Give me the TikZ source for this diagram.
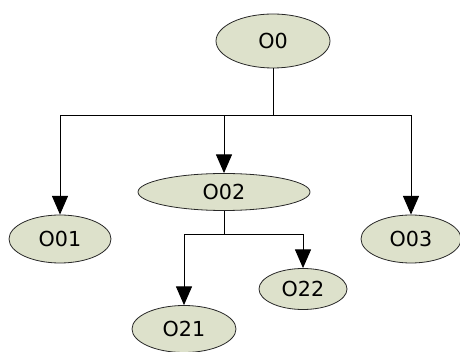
\documentclass[tikz,border=0pt]{standalone}
\usepackage{fontspec}
\setmainfont{DejaVu Sans}
\usetikzlibrary{arrows.meta,shapes.geometric}
\definecolor{nodefill}{RGB}{221,225,203}
\definecolor{nodeline}{RGB}{40,40,40}
\begin{document}
\begin{tikzpicture}[x=0.75pt,y=-0.75pt,
  obj/.style={ellipse,draw=nodeline,fill=nodefill,line width=0.6pt,inner sep=0pt,
    font=\fontsize{15.5}{17}\selectfont},
  link/.style={line width=0.75pt,black},
  arr/.style={link,-{Triangle[length=14pt,width=12pt]}}]
\useasboundingbox (0,0) rectangle (460,352);
\node[obj,minimum width=114*0.75pt,minimum height=54*0.75pt] (o0) at (273,41) {O0};
\node[obj,minimum width=172*0.75pt,minimum height=37*0.75pt] (o02) at (224,192) {O02};
\node[obj,minimum width=102*0.75pt,minimum height=48*0.75pt] (o01) at (60,239) {O01};
\node[obj,minimum width=100*0.75pt,minimum height=48*0.75pt] (o03) at (411,239) {O03};
\node[obj,minimum width=88*0.75pt,minimum height=41*0.75pt] (o22) at (303,289) {O22};
\node[obj,minimum width=104*0.75pt,minimum height=47*0.75pt] (o21) at (184,329) {O21};
\coordinate (j1) at (273,116);
\coordinate (j2) at (224,235);
\draw[link] (o0.south) -- (j1);
\draw[arr] (j1) -| (o01.north);
\draw[arr] (j1) -| (o03.north);
\draw[arr] (j1 -| o02.north) -- (o02.north);
\draw[link] (o02.south) -- (j2);
\draw[arr] (j2) -| (o21.north);
\draw[arr] (j2) -| (o22.north);
\end{tikzpicture}
\end{document}
